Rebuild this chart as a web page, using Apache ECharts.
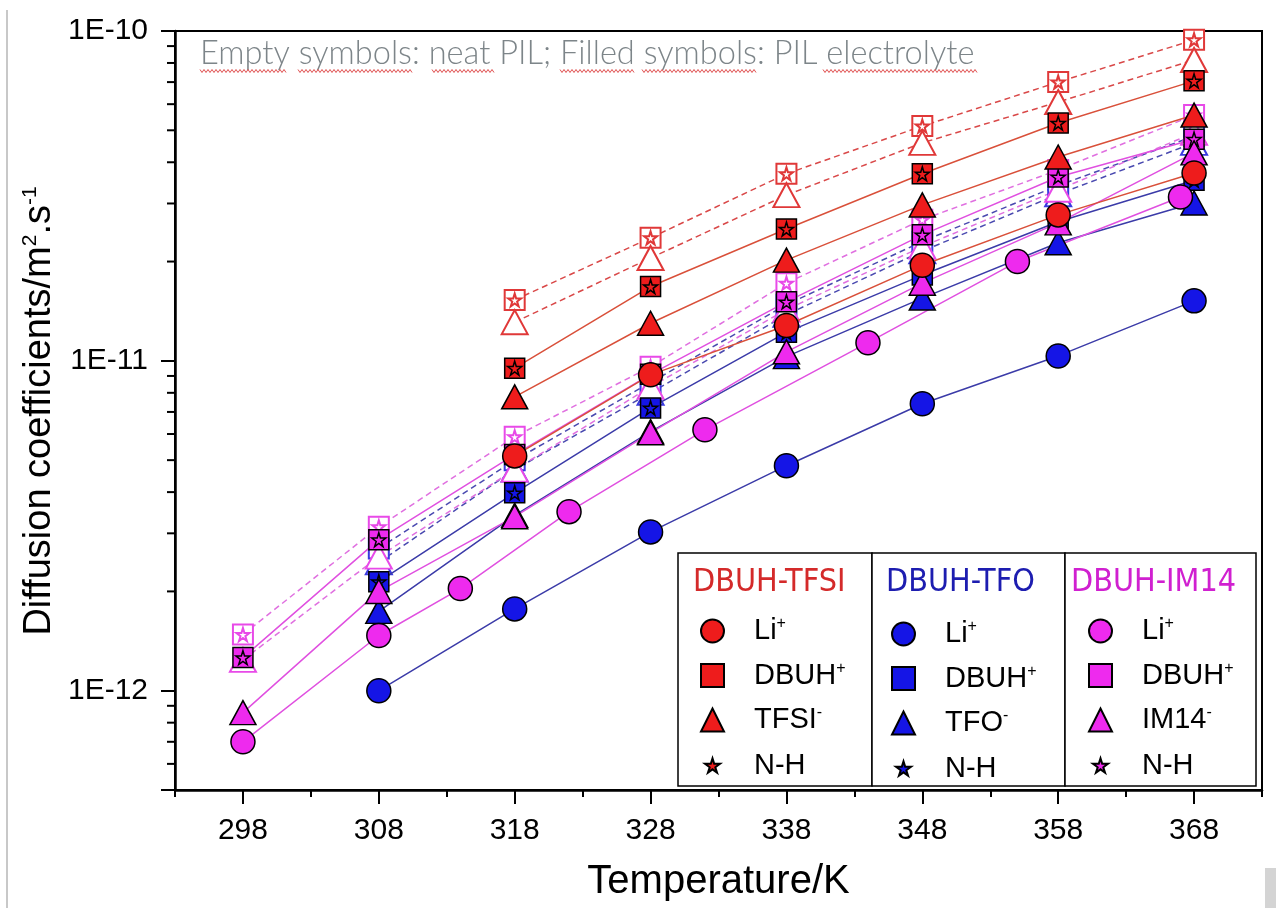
<!DOCTYPE html>
<html>
<head><meta charset="utf-8"></head>
<script type="text/javascript" src="https://cdn.jsdelivr.net/npm/echarts@6/dist/echarts.min.js"></script>
<body style="margin:0;background-color:white;">
<div id="main" style="width:1276px;height:908px;"></div>
</body>
<script>
// temperatures (K)
var temps = [298, 308, 318, 328, 338, 348, 358, 368];

// DBUH-TFSI, PIL electrolyte (filled symbols)
var tfsiLi    = [null, null, 5.15e-12, 9.07e-12, 1.28e-11, 1.95e-11, 2.77e-11, 3.71e-11];
var tfsiDbuh  = [null, null, 9.5e-12, 1.68e-11, 2.51e-11, 3.69e-11, 5.26e-11, 7.06e-11];
var tfsiAnion = [null, null, 7.78e-12, 1.30e-11, 2.02e-11, 2.97e-11, 4.15e-11, 5.56e-11];
var tfsiNH    = [null, null, 9.5e-12, 1.68e-11, 2.51e-11, 3.69e-11, 5.26e-11, 7.06e-11];
// DBUH-TFSI, neat PIL (empty symbols)
var tfsiDbuhNeat  = [null, null, 1.53e-11, 2.36e-11, 3.69e-11, 5.15e-11, 7.0e-11, 9.4e-11];
var tfsiAnionNeat = [null, null, 1.31e-11, 2.05e-11, 3.18e-11, 4.58e-11, 6.09e-11, 8.17e-11];
var tfsiNHNeat    = [null, null, 1.53e-11, 2.36e-11, 3.69e-11, 5.15e-11, 7.0e-11, 9.4e-11];

// DBUH-TFO, PIL electrolyte
var tfoLi    = [null, 1.0e-12, 1.77e-12, 3.03e-12, 4.81e-12, 7.41e-12, 1.035e-11, 1.52e-11];
var tfoDbuh  = [null, 2.14e-12, 3.98e-12, 7.2e-12, 1.22e-11, 1.82e-11, 2.64e-11, 3.53e-11];
var tfoAnion = [null, 1.74e-12, 3.4e-12, 6.1e-12, 1.03e-11, 1.55e-11, 2.28e-11, 3.01e-11];
var tfoNH    = [null, 2.14e-12, 3.98e-12, 7.2e-12, 1.22e-11, 1.82e-11, 2.64e-11, 3.53e-11];
// DBUH-TFO, neat PIL
var tfoDbuhNeat  = [null, 2.7e-12, 5.0e-12, 8.6e-12, 1.48e-11, 2.3e-11, 3.4e-11, 4.8e-11];
var tfoAnionNeat = [null, 2.45e-12, 4.68e-12, 8.0e-12, 1.38e-11, 2.15e-11, 3.2e-11, 4.58e-11];
var tfoNHNeat    = [null, 2.7e-12, 5.0e-12, 8.6e-12, 1.48e-11, 2.3e-11, 3.4e-11, 4.8e-11];

// DBUH-IM14, PIL electrolyte (Li+ measured at its own temperatures)
var im14LiT   = [298, 308, 314, 322, 332, 344, 355, 367];
var im14Li    = [7.0e-13, 1.47e-12, 2.04e-12, 3.49e-12, 6.18e-12, 1.135e-11, 2.0e-11, 3.14e-11];
var im14Dbuh  = [1.26e-12, 2.87e-12, 5.2e-12, 9.1e-12, 1.51e-11, 2.41e-11, 3.61e-11, 4.7e-11];
var im14Anion = [8.58e-13, 2.0e-12, 3.37e-12, 6.05e-12, 1.065e-11, 1.72e-11, 2.62e-11, 4.27e-11];
var im14NH    = [1.26e-12, 2.87e-12, 5.2e-12, 9.1e-12, 1.51e-11, 2.41e-11, 3.61e-11, 4.7e-11];
// DBUH-IM14, neat PIL
var im14DbuhNeat  = [1.48e-12, 3.14e-12, 5.89e-12, 9.59e-12, 1.72e-11, 2.68e-11, 3.79e-11, 5.56e-11];
var im14AnionNeat = [1.24e-12, 2.55e-12, 4.68e-12, 8.34e-12, 1.43e-11, 2.22e-11, 3.3e-11, 4.91e-11];
var im14NHNeat    = [1.48e-12, 3.14e-12, 5.89e-12, 9.59e-12, 1.72e-11, 2.68e-11, 3.79e-11, 5.56e-11];

// axis ticks
var yMinorTicks = [5e-13, 6e-13, 7e-13, 8e-13, 9e-13,
    2e-12, 3e-12, 4e-12, 5e-12, 6e-12, 7e-12, 8e-12, 9e-12,
    2e-11, 3e-11, 4e-11, 5e-11, 6e-11, 7e-11, 8e-11, 9e-11];

var RED = '#ee1c1c', BLUE = '#1515e6', MAG = '#ee2aee';
var RED_LINE = '#d9503a', BLUE_LINE = '#3b3ba8', MAG_LINE = '#e050e0';
var STAR = 'path://M50,0 L61,35 L98,35 L68,57 L79,91 L50,70 L21,91 L32,57 L2,35 L39,35 Z';
var FONT = 'Liberation Sans, Arial, sans-serif';

function pairs(xs, ys) {
    var out = [];
    for (var i = 0; i < xs.length; i++) {
        if (ys[i] != null) out.push([xs[i], ys[i]]);
    }
    return out;
}

function filled(name, vals, color, lineColor, symbol, size, xs) {
    return {
        name: name, type: 'line', z: 4,
        data: pairs(xs || temps, vals),
        symbol: symbol, symbolSize: size,
        itemStyle: {color: color, borderColor: '#000', borderWidth: 1.5, opacity: 1},
        lineStyle: lineColor ? {color: lineColor, width: 1.5} : {width: 0, opacity: 0},
        emphasis: {disabled: true}
    };
}

function neat(name, vals, color, lineColor, symbol, size) {
    return {
        name: name, type: 'line', z: 3,
        data: pairs(temps, vals),
        symbol: symbol, symbolSize: size,
        itemStyle: {color: '#fff', borderColor: color, borderWidth: 2, opacity: 1},
        lineStyle: lineColor ? {color: lineColor, width: 1.5, type: [6, 4]} : {width: 0, opacity: 0},
        emphasis: {disabled: true}
    };
}

var series = [
    neat('TFSI DBUH neat', tfsiDbuhNeat, '#e03838', '#d94848', 'rect', 20),
    neat('TFSI NH neat', tfsiNHNeat, '#e03838', null, STAR, 13),
    neat('TFSI anion neat', tfsiAnionNeat, '#e03838', '#d94848', 'triangle', [26, 24]),
    neat('TFO DBUH neat', tfoDbuhNeat, '#3a3ae0', '#4a4ab0', 'rect', 20),
    neat('TFO NH neat', tfoNHNeat, '#3a3ae0', null, STAR, 13),
    neat('TFO anion neat', tfoAnionNeat, '#3a3ae0', '#4a4ab0', 'triangle', [26, 24]),
    neat('IM14 DBUH neat', im14DbuhNeat, '#e84ae8', '#e070e0', 'rect', 20),
    neat('IM14 NH neat', im14NHNeat, '#e84ae8', null, STAR, 13),
    neat('IM14 anion neat', im14AnionNeat, '#e84ae8', '#e070e0', 'triangle', [26, 24]),

    filled('TFO Li', tfoLi, BLUE, BLUE_LINE, 'circle', 24),
    filled('TFO DBUH', tfoDbuh, BLUE, BLUE_LINE, 'rect', 20),
    filled('TFO NH', tfoNH, BLUE, null, STAR, 14),
    filled('TFO anion', tfoAnion, BLUE, BLUE_LINE, 'triangle', [26, 24]),
    filled('IM14 Li', im14Li, MAG, MAG_LINE, 'circle', 24, im14LiT),
    filled('IM14 DBUH', im14Dbuh, MAG, MAG_LINE, 'rect', 20),
    filled('IM14 NH', im14NH, MAG, null, STAR, 14),
    filled('IM14 anion', im14Anion, MAG, MAG_LINE, 'triangle', [26, 24]),
    filled('TFSI Li', tfsiLi, RED, RED_LINE, 'circle', 24),
    filled('TFSI DBUH', tfsiDbuh, RED, RED_LINE, 'rect', 20),
    filled('TFSI NH', tfsiNH, RED, null, STAR, 14),
    filled('TFSI anion', tfsiAnion, RED, RED_LINE, 'triangle', [26, 24]),

    // minor ticks of the log axis (2..9 of each decade)
    {
        type: 'custom', silent: true, z: 6, clip: false,
        data: yMinorTicks.map(function (v) { return [293, v]; }),
        renderItem: function (params, api) {
            var p = api.coord([api.value(0), api.value(1)]);
            return {type: 'line', shape: {x1: p[0] - 8, y1: p[1], x2: p[0], y2: p[1]},
                style: {stroke: '#000', lineWidth: 2}};
        }
    }
];

var labels = {
    'TFSI Li': '{n|Li}{s|+}', 'TFSI DBUH': '{n|DBUH}{s|+}', 'TFSI anion': '{n|TFSI}{s|-}', 'TFSI NH': '{n|N-H}',
    'TFO Li': '{n|Li}{s|+}', 'TFO DBUH': '{n|DBUH}{s|+}', 'TFO anion': '{n|TFO}{s|-}', 'TFO NH': '{n|N-H}',
    'IM14 Li': '{n|Li}{s|+}', 'IM14 DBUH': '{n|DBUH}{s|+}', 'IM14 anion': '{n|IM14}{s|-}', 'IM14 NH': '{n|N-H}'
};
var legendText = {
    color: '#000', fontFamily: FONT,
    rich: {
        n: {fontSize: 29, fontFamily: FONT, color: '#000', lineHeight: 30, padding: [0, 0, 0, 25]},
        s: {fontSize: 16, fontFamily: FONT, color: '#000', verticalAlign: 'top', lineHeight: 30, padding: [0, 0, 6, 0]}
    }
};
function legend(pre, left, top, nhTop) {
    return [{
        orient: 'vertical', left: left, top: top, itemWidth: 23, itemHeight: 23, itemGap: 15,
        selectedMode: false, z: 20, padding: 0,
        data: [{name: pre + ' Li', icon: 'circle'}, {name: pre + ' DBUH', icon: 'rect'},
               {name: pre + ' anion', icon: 'triangle'}],
        formatter: function (n) { return labels[n]; }, textStyle: legendText
    }, {
        orient: 'vertical', left: left + 4, top: nhTop, itemWidth: 15, itemHeight: 15,
        selectedMode: false, z: 20, padding: 0,
        data: [{name: pre + ' NH', icon: STAR}],
        formatter: function (n) { return labels[n]; },
        textStyle: {color: '#000', fontFamily: FONT, rich: {
            n: {fontSize: 29, fontFamily: FONT, color: '#000', lineHeight: 30, padding: [0, 0, 0, 29]}}}
    }];
}

// wavy spell-check underlines under the note
function wave(x1, x2, y) {
    var pts = [], up = true;
    for (var x = x1; x <= x2; x += 2) { pts.push([x, up ? y - 1.5 : y + 1.5]); up = !up; }
    return {type: 'polyline', shape: {points: pts}, style: {stroke: '#e05050', lineWidth: 1, fill: null}, z: 30};
}

var myChart = echarts.init(document.getElementById('main'));

var option = {
    animation: false,
    backgroundColor: '#fff',
    grid: {left: 175, right: 14, top: 31, bottom: 118, show: true, borderColor: '#000', borderWidth: 2, backgroundColor: 'transparent'},
    legend: [].concat(legend('TFSI', 700, 616, 751), legend('TFO', 891, 619, 754), legend('IM14', 1088, 616, 751)),
    xAxis: [{
        type: 'value', min: 293, max: 373, interval: 10,
        axisLine: {lineStyle: {color: '#000', width: 2.5}},
        axisTick: {length: 7, lineStyle: {color: '#000', width: 2}},
        minorTick: {show: true, splitNumber: 2, length: 14, lineStyle: {color: '#000', width: 2}},
        axisLabel: {show: false}, splitLine: {show: false}
    }, {
        type: 'value', min: 293, max: 373, interval: 5, position: 'bottom',
        axisLine: {show: false}, axisTick: {show: false}, splitLine: {show: false},
        axisLabel: {
            margin: 26, fontSize: 30, color: '#000', fontFamily: FONT,
            formatter: function (v) { return (Math.round(v) - 298) % 10 === 0 ? String(Math.round(v)) : ''; }
        },
        name: 'Temperature/K', nameLocation: 'middle', nameGap: 72,
        nameTextStyle: {fontSize: 40, color: '#000', fontFamily: FONT}
    }],
    yAxis: {
        type: 'log', logBase: 10, min: 5e-13, max: 1e-10,
        axisLine: {show: true, lineStyle: {color: '#000', width: 2.5}},
        axisTick: {show: true, length: 14, lineStyle: {color: '#000', width: 2}},
        splitLine: {show: false},
        axisLabel: {
            margin: 27, fontSize: 30, color: '#000', fontFamily: FONT,
            formatter: function (v) {
                var e = Math.log10(v), r = Math.round(e);
                return Math.abs(e - r) < 1e-6 ? '1E' + r : '';
            }
        }
    },
    graphic: [
        {type: 'line', shape: {x1: 7, y1: 10, x2: 7, y2: 908}, style: {stroke: '#c8c8c8', lineWidth: 2}},
        {type: 'rect', shape: {x: 1265, y: 868, width: 11, height: 40}, style: {fill: '#d4d4d4'}},
        {type: 'text', x: 40, y: 411, rotation: Math.PI / 2, z: 30,
            style: {text: 'Diffusion coefficients/m{s|2}.s{s|-1}', fill: '#000', font: '38px ' + FONT,
                align: 'center', verticalAlign: 'middle',
                rich: {s: {fontSize: 21, fontFamily: FONT, fill: '#000', verticalAlign: 'top', lineHeight: 40}}}},
        {type: 'text', x: 200, y: 53, z: 30,
            style: {text: 'Empty symbols: neat PIL; Filled symbols: PIL electrolyte', fill: '#7d8589',
                font: '300 32.6px Lato, "Open Sans", sans-serif', verticalAlign: 'middle'}},
        wave(200, 287, 71), wave(298, 412, 71), wave(432, 495, 71),
        wave(560, 635, 71), wave(642, 757, 71), wave(823, 977, 71),
        {type: 'rect', shape: {x: 678, y: 553, width: 194, height: 233}, style: {fill: '#fff', stroke: '#000', lineWidth: 1.5}, z: 10},
        {type: 'rect', shape: {x: 872, y: 553, width: 193, height: 233}, style: {fill: '#fff', stroke: '#000', lineWidth: 1.5}, z: 10},
        {type: 'rect', shape: {x: 1065, y: 553, width: 191, height: 233}, style: {fill: '#fff', stroke: '#000', lineWidth: 1.5}, z: 10},
        {type: 'text', x: 693, y: 583, z: 11, style: {text: 'DBUH-TFSI', fill: '#d42a2a', font: '32px "Liberation Sans Narrow", "DejaVu Sans Condensed", sans-serif', verticalAlign: 'middle'}},
        {type: 'text', x: 886, y: 583, z: 11, style: {text: 'DBUH-TFO', fill: '#1d1db0', font: '32px "Liberation Sans Narrow", "DejaVu Sans Condensed", sans-serif', verticalAlign: 'middle'}},
        {type: 'text', x: 1071, y: 583, z: 11, style: {text: 'DBUH-IM14', fill: '#d020d0', font: '32px "Liberation Sans Narrow", "DejaVu Sans Condensed", sans-serif', verticalAlign: 'middle'}}
    ],
    series: series
};

option && myChart.setOption(option);
</script>
</html>
